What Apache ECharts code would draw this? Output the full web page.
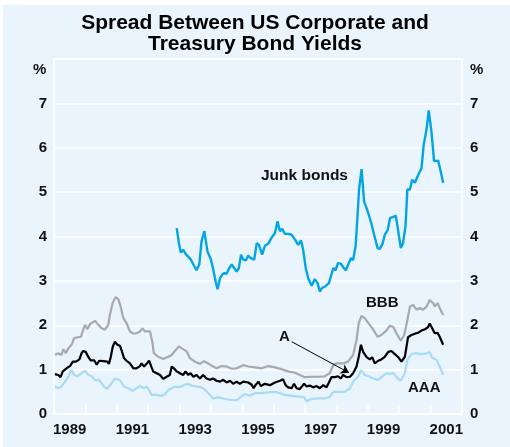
<!DOCTYPE html>
<html>
<head>
<meta charset="utf-8">
<script src="https://cdn.jsdelivr.net/npm/echarts@6/dist/echarts.min.js"></script>
<style>
html,body{margin:0;padding:0;background:#fff;}
#c{width:510px;height:447px;}
</style>
</head>
<body>
<div id="c"></div>
<script>
// ---- Data (decimal year, % spread) ----
const junkT = [1992.91,1992.98,1993.04,1993.12,1993.19,1993.28,1993.36,1993.44,1993.54,1993.63,1993.70,1993.79,1993.89,1994.00,1994.07,1994.15,1994.21,1994.29,1994.36,1994.43,1994.50,1994.57,1994.66,1994.74,1994.82,1994.89,1994.96,1995.03,1995.11,1995.19,1995.27,1995.38,1995.46,1995.53,1995.63,1995.72,1995.83,1995.93,1996.04,1996.12,1996.20,1996.27,1996.36,1996.46,1996.57,1996.68,1996.78,1996.87,1996.94,1997.02,1997.10,1997.21,1997.31,1997.40,1997.47,1997.54,1997.65,1997.76,1997.82,1997.90,1997.97,1998.05,1998.14,1998.21,1998.30,1998.37,1998.46,1998.53,1998.61,1998.67,1998.72,1998.80,1998.88,1998.96,1999.03,1999.12,1999.20,1999.31,1999.38,1999.47,1999.54,1999.63,1999.71,1999.81,1999.89,1999.97,2000.05,2000.12,2000.20,2000.26,2000.34,2000.41,2000.50,2000.60,2000.71,2000.78,2000.87,2000.94,2001.03,2001.11,2001.24,2001.32,2001.40];
const junkV = [4.19,3.85,3.64,3.70,3.61,3.54,3.48,3.37,3.24,3.37,3.89,4.12,3.66,3.48,3.27,2.99,2.81,3.06,3.14,3.18,3.16,3.27,3.37,3.29,3.21,3.29,3.59,3.48,3.46,3.57,3.51,3.48,3.85,3.81,3.59,3.79,3.84,3.97,4.08,4.34,4.12,4.17,4.06,4.06,4.04,3.93,3.81,3.91,3.70,3.29,3.06,2.89,3.04,2.95,2.76,2.84,2.88,2.95,2.99,3.29,3.24,3.40,3.39,3.31,3.24,3.36,3.51,3.47,3.78,4.45,5.06,5.52,4.79,4.64,4.49,4.27,4.04,3.74,3.72,3.84,4.04,4.14,4.42,4.44,4.47,4.11,3.74,3.85,4.23,5.06,5.06,5.28,5.21,5.38,5.54,6.07,6.41,6.84,6.34,5.70,5.71,5.47,5.21];

const bbbT = [1989.03,1989.14,1989.24,1989.30,1989.38,1989.46,1989.56,1989.64,1989.77,1989.86,1989.93,1989.99,1990.06,1990.15,1990.31,1990.41,1990.52,1990.62,1990.73,1990.78,1990.87,1990.96,1991.05,1991.12,1991.21,1991.31,1991.42,1991.53,1991.63,1991.74,1991.82,1991.90,1991.95,1992.06,1992.14,1992.18,1992.32,1992.48,1992.64,1992.75,1992.85,1992.98,1993.07,1993.23,1993.33,1993.49,1993.65,1993.78,1993.91,1994.07,1994.18,1994.34,1994.50,1994.66,1994.82,1995.03,1995.19,1995.40,1995.61,1995.83,1996.04,1996.25,1996.46,1996.68,1996.83,1996.99,1997.21,1997.42,1997.63,1997.79,1997.90,1998.00,1998.21,1998.37,1998.53,1998.64,1998.71,1998.80,1998.90,1999.06,1999.17,1999.31,1999.43,1999.59,1999.70,1999.81,1999.91,2000.05,2000.16,2000.26,2000.34,2000.44,2000.55,2000.66,2000.76,2000.87,2000.97,2001.08,2001.13,2001.22,2001.29,2001.40];
const bbbV = [1.33,1.37,1.33,1.46,1.37,1.48,1.56,1.71,1.73,1.74,1.90,2.01,1.91,2.03,2.10,2.01,1.93,1.90,2.01,2.23,2.50,2.63,2.59,2.43,2.16,2.05,1.86,1.81,1.82,1.86,1.93,1.86,1.90,1.86,1.60,1.37,1.29,1.24,1.29,1.33,1.42,1.52,1.48,1.41,1.26,1.18,1.13,1.19,1.14,1.07,1.03,1.08,1.07,1.02,1.03,1.10,1.07,1.05,1.03,1.08,1.05,1.01,0.96,0.93,0.88,0.83,0.84,0.84,0.85,0.92,1.11,1.14,1.14,1.18,1.33,1.67,2.05,2.21,2.16,2.01,1.90,1.74,1.78,1.88,1.99,1.96,1.82,1.65,1.78,2.12,2.42,2.46,2.35,2.39,2.35,2.42,2.57,2.50,2.42,2.50,2.39,2.23];

const aT = [1989.03,1989.14,1989.21,1989.28,1989.35,1989.44,1989.51,1989.60,1989.70,1989.81,1989.88,1989.93,1990.01,1990.09,1990.17,1990.28,1990.36,1990.44,1990.57,1990.70,1990.75,1990.81,1990.87,1990.94,1991.02,1991.10,1991.16,1991.23,1991.31,1991.42,1991.53,1991.63,1991.74,1991.79,1991.87,1991.95,1992.03,1992.11,1992.16,1992.27,1992.38,1992.48,1992.59,1992.69,1992.75,1992.82,1992.91,1993.01,1993.12,1993.19,1993.28,1993.35,1993.44,1993.54,1993.65,1993.75,1993.86,1993.97,1994.07,1994.18,1994.29,1994.39,1994.50,1994.61,1994.71,1994.82,1994.92,1995.03,1995.19,1995.30,1995.36,1995.42,1995.51,1995.59,1995.72,1995.88,1996.04,1996.20,1996.30,1996.38,1996.46,1996.57,1996.65,1996.73,1996.83,1996.97,1997.05,1997.15,1997.26,1997.37,1997.47,1997.58,1997.68,1997.76,1997.84,1997.95,1998.05,1998.14,1998.21,1998.32,1998.43,1998.53,1998.64,1998.71,1998.78,1998.85,1998.96,1999.06,1999.14,1999.22,1999.33,1999.43,1999.54,1999.65,1999.75,1999.86,1999.97,2000.07,2000.18,2000.28,2000.39,2000.50,2000.60,2000.71,2000.82,2000.92,2000.97,2001.05,2001.13,2001.22,2001.29,2001.40];
const aV = [0.90,0.88,0.83,0.96,1.00,1.05,1.08,1.18,1.18,1.23,1.37,1.42,1.40,1.29,1.21,1.21,1.11,1.20,1.19,1.18,1.13,1.29,1.51,1.63,1.56,1.54,1.42,1.26,1.20,1.14,1.03,1.03,1.08,1.14,1.07,1.13,1.20,1.05,0.96,0.92,0.88,0.79,0.84,0.88,1.07,1.03,0.96,0.92,0.88,0.96,0.88,0.92,0.84,0.88,0.80,0.88,0.80,0.77,0.80,0.75,0.73,0.77,0.71,0.75,0.68,0.73,0.68,0.73,0.71,0.66,0.58,0.65,0.73,0.63,0.68,0.65,0.71,0.75,0.78,0.65,0.60,0.58,0.68,0.58,0.56,0.68,0.62,0.64,0.60,0.63,0.58,0.65,0.60,0.71,0.83,0.83,0.85,0.80,0.88,0.83,0.84,0.92,1.07,1.29,1.56,1.40,1.28,1.23,1.28,1.14,1.20,1.23,1.29,1.40,1.42,1.35,1.28,1.18,1.29,1.73,1.78,1.81,1.83,1.88,1.91,1.96,2.04,1.93,1.82,1.83,1.74,1.56];

const aaaT = [1989.03,1989.14,1989.24,1989.35,1989.46,1989.56,1989.64,1989.74,1989.88,1989.99,1990.09,1990.20,1990.31,1990.44,1990.57,1990.68,1990.78,1990.94,1991.10,1991.23,1991.37,1991.50,1991.63,1991.74,1991.84,1991.95,1992.04,1992.11,1992.27,1992.43,1992.54,1992.64,1992.75,1992.85,1992.96,1993.12,1993.25,1993.39,1993.54,1993.70,1993.84,1993.97,1994.07,1994.23,1994.39,1994.61,1994.82,1994.95,1995.08,1995.24,1995.40,1995.61,1995.83,1996.04,1996.20,1996.36,1996.57,1996.78,1996.97,1997.05,1997.15,1997.37,1997.63,1997.79,1997.90,1998.05,1998.27,1998.43,1998.56,1998.69,1998.78,1998.90,1999.06,1999.17,1999.33,1999.43,1999.59,1999.70,1999.81,1999.95,2000.05,2000.18,2000.26,2000.39,2000.50,2000.66,2000.82,2000.97,2001.05,2001.19,2001.29,2001.40];
const aaaV = [0.62,0.58,0.62,0.73,0.84,0.99,0.88,0.85,0.92,0.98,0.88,0.85,0.76,0.77,0.64,0.56,0.64,0.80,0.76,0.62,0.58,0.52,0.58,0.64,0.58,0.62,0.53,0.43,0.43,0.41,0.45,0.54,0.58,0.62,0.60,0.64,0.68,0.64,0.62,0.60,0.53,0.43,0.35,0.38,0.35,0.32,0.31,0.38,0.45,0.41,0.47,0.47,0.49,0.50,0.47,0.43,0.41,0.39,0.38,0.28,0.33,0.35,0.35,0.39,0.50,0.50,0.50,0.58,0.76,0.84,0.99,0.88,0.84,0.80,0.77,0.83,0.92,0.90,0.93,0.80,0.75,0.92,1.22,1.35,1.37,1.35,1.36,1.39,1.27,1.22,1.07,0.88];

const yTicks = [0,1,2,3,4,5,6,7];
const titleText = 'Spread Between US Corporate and\nTreasury Bond Yields';

const pair = (T, V) => T.map((t, i) => [t, V[i]]);
const BG = '#EAF4FD';
const FONT = '"Liberation Sans", Arial, Helvetica, sans-serif';
const lbl = {color: '#111', fontSize: 15, fontWeight: 'bold', fontFamily: FONT};

const chart = echarts.init(document.getElementById('c'), null, {renderer: 'canvas'});
chart.setOption({
  backgroundColor: '#fff',
  animation: false,
  title: {
    text: titleText, left: 'center', top: 8,
    textStyle: {fontSize: 21, lineHeight: 21, fontWeight: 'bold', color: '#000', fontFamily: FONT}
  },
  graphic: [
    {type: 'rect', z: -10, silent: true, shape: {x: 3, y: 5, width: 510, height: 450}, style: {fill: BG}},
    {type: 'text', left: 33, top: 62, style: {text: '%', fill: '#111', font: 'bold 15px ' + FONT}},
    {type: 'text', left: 470, top: 62, style: {text: '%', fill: '#111', font: 'bold 15px ' + FONT}},
    {type: 'text', left: 261, top: 168, style: {text: 'Junk bonds', fill: '#111', font: 'bold 15.5px ' + FONT}},
    {type: 'text', left: 366, top: 295, style: {text: 'BBB', fill: '#111', font: 'bold 15px ' + FONT}},
    {type: 'text', left: 279, top: 329, style: {text: 'A', fill: '#111', font: 'bold 15px ' + FONT}},
    {type: 'text', left: 408, top: 380, style: {text: 'AAA', fill: '#111', font: 'bold 15px ' + FONT}}
  ],
  grid: {left: 54, right: 48, top: 59, bottom: 33, show: true, backgroundColor: BG, borderColor: '#fff', borderWidth: 1.5},
  xAxis: [
    {type: 'value', min: 1989, max: 2002, interval: 1, position: 'bottom',
     axisLine: {show: true, lineStyle: {color: '#fff', width: 1.5}},
     axisTick: {show: true, inside: true, length: 9, lineStyle: {color: '#fff', width: 1.5}},
     axisLabel: {show: false}, splitLine: {show: false}},
    {type: 'value', min: 1989, max: 2002, interval: 0.5, position: 'bottom',
     axisLine: {show: false}, axisTick: {show: false}, splitLine: {show: false},
     axisLabel: Object.assign({margin: 8, formatter: v => {
        const f = Math.floor(v);
        return (Math.abs(v - f - 0.5) < 1e-6 && f % 2 === 1) ? String(f) : '';
     }}, lbl)}
  ],
  yAxis: [
    {type: 'value', min: 0, max: 8, interval: 1, position: 'left',
     axisLine: {show: false}, axisTick: {show: false},
     splitLine: {show: true, lineStyle: {color: '#fff', width: 1.5}},
     axisLabel: Object.assign({margin: 7, formatter: v => yTicks.includes(v) ? String(v) : ''}, lbl)},
    {type: 'value', min: 0, max: 8, interval: 1, position: 'right',
     axisLine: {show: false}, axisTick: {show: false}, splitLine: {show: false},
     axisLabel: Object.assign({margin: 8, formatter: v => yTicks.includes(v) ? String(v) : ''}, lbl)}
  ],
  series: [
    {name: 'AAA', type: 'line', data: pair(aaaT, aaaV), showSymbol: false, lineStyle: {color: '#A8DBF5', width: 2.2}, z: 2},
    {name: 'BBB', type: 'line', data: pair(bbbT, bbbV), showSymbol: false, lineStyle: {color: '#A7A9AC', width: 2.2}, z: 3},
    {name: 'A', type: 'line', data: pair(aT, aV), showSymbol: false, lineStyle: {color: '#000', width: 2.2}, z: 4,
     markLine: {silent: true, symbol: ['none', 'arrow'], symbolSize: 8, label: {show: false},
       lineStyle: {color: '#000', width: 1, type: 'solid'},
       data: [[{coord: [1996.57, 1.63]}, {coord: [1998.40, 0.93]}]]}},
    {name: 'Junk bonds', type: 'line', data: pair(junkT, junkV), showSymbol: false, lineStyle: {color: '#00A5E6', width: 2.4}, z: 5}
  ]
});
</script>
</body>
</html>
